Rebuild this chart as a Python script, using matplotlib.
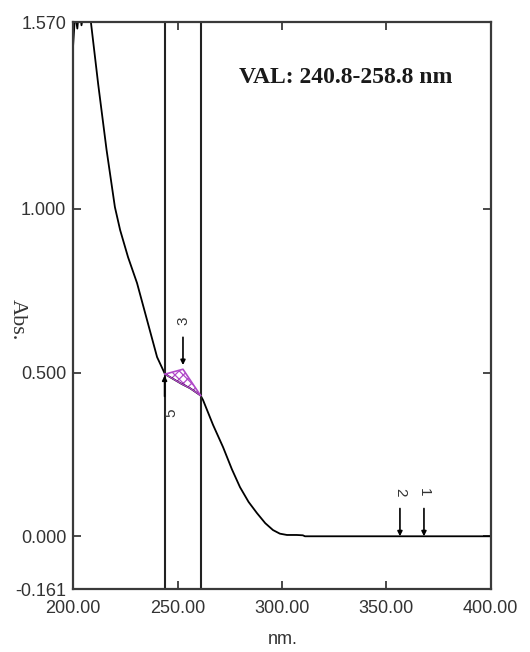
import matplotlib.pyplot as plt
import numpy as np

# spectrum (nm, Abs.)
wavelength = [200, 201, 202, 203, 204, 205, 206, 207, 208.5, 212, 216, 220, 222.5,
              226.3, 230.6, 235.4, 240.2, 244, 248, 252, 256, 261, 262.2, 267,
              271.8, 276, 279.9, 284, 288, 292, 295.7, 299, 302.4, 307, 310, 311,
              320, 340, 360, 380, 400]
absorbance = [1.50, 1.60, 1.55, 1.62, 1.56, 1.60, 1.58, 1.62, 1.57, 1.38, 1.18, 1.005, 0.935,
              0.852, 0.773, 0.66, 0.547, 0.495, 0.48, 0.465, 0.452, 0.43, 0.416, 0.34,
              0.272, 0.205, 0.150, 0.105, 0.071, 0.040, 0.019, 0.008, 0.004, 0.004, 0.003, 0.0,
              0.0, 0.0, 0.0, 0.0, 0.0]

# valley / area range
range_lines = [244, 261]
area_x = [244, 252.6, 261]
area_top = [0.495, 0.51, 0.43]

# peak pick markers
pick_labels = ['1', '2', '3', '5']
pick_x = [368, 356.5, 252.6, 243.8]
pick_y = [0.0, 0.0, 0.51, 0.495]
pick_below = [False, False, False, True]
pick_rot = [-90, -90, 90, 90]

yticks = [-0.161, 0.0, 0.5, 1.0, 1.57]
xticks = [200, 250, 300, 350, 400]

purple = '#b048c8'
axcol = '#3a3a3a'

plt.rcParams['hatch.linewidth'] = 0.9

fig = plt.figure(figsize=(5.3, 6.52), dpi=100)
ax = fig.add_axes([0.138, 0.0966, 0.788, 0.8696])

ax.plot(wavelength, absorbance, color='black', lw=1.3)
for x in range_lines:
    ax.axvline(x, color='#222222', lw=1.5)

# hatched area
xs = np.linspace(area_x[0], area_x[-1], 40)
top = np.interp(xs, area_x, area_top)
bottom = np.interp(xs, wavelength, absorbance)
ax.fill_between(xs, bottom, top, facecolor='none', edgecolor=purple, hatch='xxxx', lw=0)
ax.plot(area_x, area_top, color=purple, lw=1.2)
ax.plot(xs, bottom, color=purple, lw=1.0)

# pick markers
for lab, x, y, below, rot in zip(pick_labels, pick_x, pick_y, pick_below, pick_rot):
    if below:
        ax.annotate('', xy=(x, y), xytext=(0, -16), textcoords='offset points',
                    arrowprops=dict(arrowstyle='-|>', color='black', lw=1.2,
                                    mutation_scale=7, shrinkA=0, shrinkB=1))
        ax.annotate(lab, xy=(x, y), xytext=(5, -28), textcoords='offset points',
                    ha='center', va='center', rotation=rot, fontsize=11,
                    family='Liberation Sans', color='#333333')
    else:
        gap = 0 if y == 0 else 3
        ax.annotate('', xy=(x, y), xytext=(0, 20 + gap), textcoords='offset points',
                    arrowprops=dict(arrowstyle='-|>', color='black', lw=1.2,
                                    mutation_scale=7, shrinkA=0, shrinkB=gap))
        ax.annotate(lab, xy=(x, y), xytext=(0, 32 + gap), textcoords='offset points',
                    ha='center', va='center', rotation=rot, fontsize=11,
                    family='Liberation Sans', color='#333333')

ax.text(0.397, 0.902, 'VAL: 240.8-258.8 nm', transform=ax.transAxes,
        family='Liberation Serif', fontweight='bold', fontsize=17, color='#1a1a1a',
        ha='left', va='center')

ax.set_xlim(200, 400)
ax.set_ylim(-0.161, 1.57)
ax.set_xticks(xticks)
ax.set_xticklabels(['%.2f' % v for v in xticks])
ax.set_yticks(yticks)
ax.set_yticklabels(['%.3f' % v for v in yticks])
ax.tick_params(direction='in', length=6, width=1.3, color=axcol, top=True, right=True,
               labelsize=13, labelcolor='#333333', pad=5)
ax.tick_params(axis='x', pad=8)
for lbl in ax.get_xticklabels() + ax.get_yticklabels():
    lbl.set_family('Liberation Sans')
for s in ax.spines.values():
    s.set_color(axcol)
    s.set_linewidth(1.6)

fig.text(283 / 530, 1 - 640 / 652, 'nm.', ha='center', va='center', fontsize=13,
         family='Liberation Sans', color='#333333')
fig.text(17 / 530, 1 - 320 / 652, 'Abs.', ha='center', va='center', fontsize=16,
         family='Liberation Serif', color='#333333', rotation=-90)

fig.savefig('out.png', dpi=100)
